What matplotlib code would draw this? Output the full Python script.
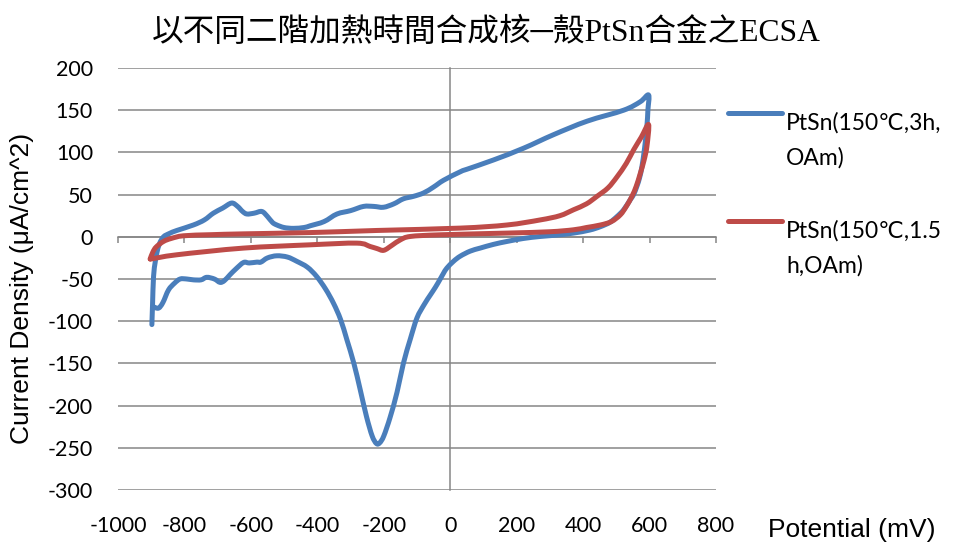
import matplotlib
matplotlib.use("Agg")
import numpy as np
import matplotlib.pyplot as plt
from matplotlib.lines import Line2D
from matplotlib.path import Path
from matplotlib.patches import PathPatch

plt.rcParams["axes.unicode_minus"] = False

# potential (mV) / current density (uA/cm^2) for the 3 h sample, one full sweep
pot_3h = [-898, -896, -893, -888, -883, -875, -863, -845, -823, -773, -740, -713, -685,
          -658, -640, -625, -612, -590, -567, -550, -535, -522, -500, -472, -440, -422,
          -380, -341, -300, -261, -230, -201, -170, -141, -110, -80, -50, -20, 30, 50,
          130, 221, 311, 412, 522, 572, 597,
          595, 592, 585, 577, 570, 562, 552, 542, 522, 502, 480, 452, 420, 371, 320,
          271, 220, 171, 130, 90, 60, 30, 10, -10, -20, -30, -45, -60, -78, -100, -120,
          -141, -160, -181, -200, -212, -222, -235, -252, -271, -290, -311, -330, -351,
          -375, -402, -430, -462, -490, -522, -550, -570, -582, -605, -622, -645, -663,
          -680, -693, -710, -733, -750, -773, -793, -813, -830, -848, -865, -878, -893]
cur_3h = [-104, -80, -47, -30, -19, -8, 0, 4, 7.5, 14, 20, 28, 34,
          40, 36, 30, 27, 28, 30, 24, 17, 14, 11, 10, 11, 13,
          18, 27, 31, 36, 36, 35, 39, 45, 48, 52, 59, 67, 77, 80,
          91, 105, 121, 137, 150, 160, 168,
          150, 131, 105, 83, 70, 60, 50, 44, 32, 24, 17, 12, 8, 4.4, 2,
          0.4, -2, -5.5, -9, -13.4, -17, -23, -29, -37, -43, -50, -60, -69, -80, -96, -121,
          -150, -184, -214, -236, -244, -245, -236, -213, -181, -150, -122, -98, -79,
          -62, -47, -36, -29, -24, -22.5, -25, -30, -30, -31, -30.4, -38, -45,
          -52, -54, -50, -48, -51, -51, -50, -50, -55, -63, -78, -84.5, -83]

# same for the 1.5 h sample
pot_15h = [-903, -895, -885, -863, -840, -803, -720, -622, -422, -221, 30, 171, 271, 330,
           371, 410, 442, 475, 502, 530, 552, 575, 597,
           592, 583, 572, 560, 547, 530, 512, 485, 452, 410, 371, 300, 171, -30, -120,
           -150, -175, -200, -220, -241, -281, -422, -623, -823, -903]
cur_15h = [-26, -18, -12, -5.5, -2, 1.2, 2.5, 3.5, 5, 7.5, 10.3, 14, 20, 25,
           32, 39, 48, 58, 71, 87, 103, 118, 133,
           107, 90, 75, 60, 48, 36, 26, 18, 14, 11, 8.3, 6, 4.4, 2.4, 0.4,
           -3.6, -10, -16, -14, -11.5, -7.5, -9.5, -13.4, -21.3, -26.5]

labels = ["PtSn(150\u2103,3h,\nOAm)", "PtSn(150\u2103,1.5\nh,OAm)"]
colors = ["#4A7EBB", "#BE4B48"]
x_ticks = list(range(-1000, 801, 200))
y_ticks = list(range(-300, 201, 50))

tick_font = ["Lato", "DejaVu Sans"]
grid_gray = "#868686"
line_w = 3.6


def smooth_path(xs, ys):
    # cubic bezier through every point (catmull-rom style), like a "smoothed line" chart
    p = np.column_stack([xs, ys]).astype(float)
    ext = np.vstack([p[0], p, p[-1]])
    verts = [p[0]]
    codes = [Path.MOVETO]
    for i in range(len(p) - 1):
        p0, p1, p2, p3 = ext[i], ext[i + 1], ext[i + 2], ext[i + 3]
        verts += [p1 + (p2 - p0) / 6, p2 - (p3 - p1) / 6, p2]
        codes += [Path.CURVE4] * 3
    return Path(verts, codes)


fig = plt.figure(figsize=(9.55, 5.46), dpi=100)
ax = fig.add_axes([118 / 955, 1 - 490 / 546, 598 / 955, 422 / 546])

for xs, ys, col in [(pot_3h, cur_3h, colors[0]), (pot_15h, cur_15h, colors[1])]:
    ax.add_patch(PathPatch(smooth_path(xs, ys), fill=False, edgecolor=col, lw=line_w,
                           joinstyle="round", capstyle="round", zorder=3))

ax.set_xlim(-1000, 800)
ax.set_ylim(-300, 200)
ax.set_xticks(x_ticks)
ax.set_yticks(y_ticks)
ax.grid(axis="y", color=grid_gray, lw=1.1)
ax.set_axisbelow(True)

# axes cross at the origin, numbers stay on the outer edges
for side in ("top", "right"):
    ax.spines[side].set_visible(False)
ax.spines["left"].set_position(("data", 0))
ax.spines["bottom"].set_position(("data", 0))
for side in ("left", "bottom"):
    ax.spines[side].set_color(grid_gray)
    ax.spines[side].set_linewidth(1.1)
ax.tick_params(axis="x", direction="out", length=4, width=1.1, color=grid_gray, labelbottom=False)
ax.tick_params(axis="y", length=0, labelleft=False)

secx = ax.secondary_xaxis(0)
secx.set_xticks(x_ticks)
secx.tick_params(length=0, pad=19)
secx.spines["bottom"].set_visible(False)
for t in secx.get_xticklabels():
    t.set_fontfamily(tick_font)
    t.set_fontsize(15.5)

secy = ax.secondary_yaxis(0)
secy.set_yticks(y_ticks)
secy.tick_params(length=0, pad=18)
secy.spines["left"].set_visible(False)
for t in secy.get_yticklabels():
    t.set_fontfamily(tick_font)
    t.set_fontsize(15.5)

fig.text(0.509, 1 - 33 / 546, "以不同二階加熱時間合成核─殼PtSn合金之ECSA",
         family=["Liberation Serif", "Noto Sans CJK TC"], fontsize=22.8, ha="center", va="center")
fig.text(22 / 955, 1 - 288 / 546, "Current Density (μA/cm^2)", family="Liberation Sans",
         fontsize=19, rotation=90, ha="center", va="center")
fig.text(852 / 955, 1 - 530 / 546, "Potential (mV)", family="Liberation Sans",
         fontsize=19, ha="center", va="center")

# legend keys and wrapped labels to the right of the plot
for i, (lab, col) in enumerate(zip(labels, colors)):
    y = 1 - (113 + 108 * i) / 546
    fig.add_artist(Line2D([728 / 955, 782 / 955], [y, y], color=col, lw=line_w,
                          solid_capstyle="round", transform=fig.transFigure))
    fig.text(786 / 955, y + 1 / 546, lab, family=tick_font, fontsize=16.5,
             ha="left", va="top", linespacing=1.75)

fig.savefig("out.png", dpi=100)
